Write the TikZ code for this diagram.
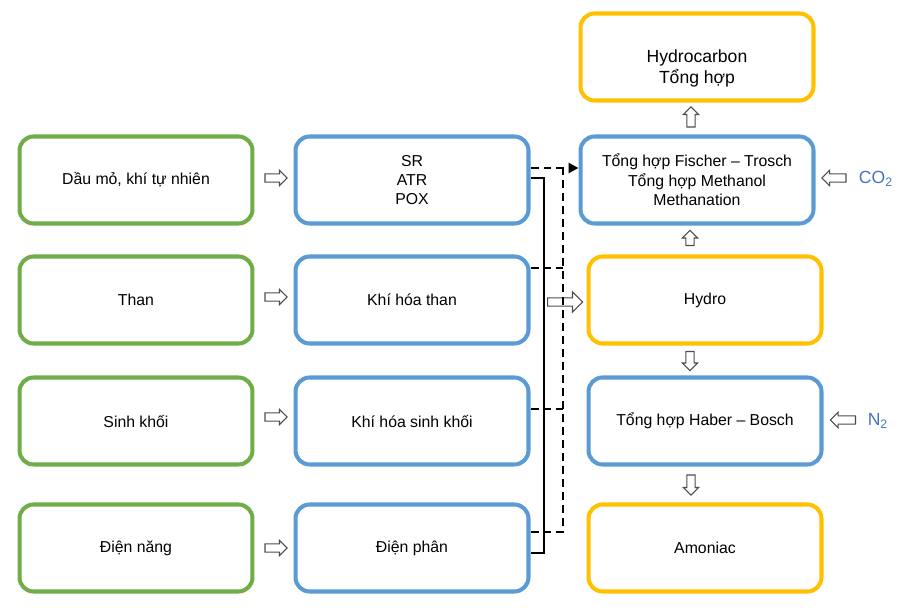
\documentclass[tikz,border=0pt]{standalone}
\usepackage{fontspec}
\setmainfont{Liberation Sans}
\usetikzlibrary{shapes.arrows,arrows.meta}
\definecolor{xanhla}{HTML}{70AD47}
\definecolor{xanhduong}{HTML}{5B9BD5}
\definecolor{vang}{HTML}{FFC000}
\definecolor{chuxanh}{HTML}{4472C4}

\begin{document}
\begin{tikzpicture}[x=0.02cm,y=-0.02cm,
  hop/.style={draw,rounded corners=0.28cm,line width=2.3pt,minimum width=4.66cm,minimum height=1.74cm,align=center,font=\fontsize{9}{11}\selectfont},
  nguon/.style={hop,draw=xanhla},
  quytrinh/.style={hop,draw=xanhduong},
  sanpham/.style={hop,draw=vang},
  muiten/.style={single arrow,draw=black!70,fill=white,line width=0.6pt,inner sep=2pt,minimum height=0.44cm,single arrow head extend=0.07cm},
  muitenlon/.style={muiten,minimum height=0.7cm,single arrow head extend=0.12cm},
  duonglien/.style={line width=1.4pt},
  duongdut/.style={line width=1.4pt,dash pattern=on 0.16cm off 0.1cm}]
\useasboundingbox (0,0) rectangle (910,608);
\node[nguon] (dau) at (136,180) {Dầu mỏ, khí tự nhiên};
\node[nguon] (than) at (136,300) {Than};
\node[nguon] (sinhkhoi) at (136,421) {Sinh khối};
\node[nguon] (dien) at (136,548) {Điện năng};
\node[quytrinh] (reform) at (412,180) {SR\\ATR\\POX};
\node[quytrinh] (khthan) at (412,300) {Khí hóa than};
\node[quytrinh] (khsk) at (412,421) {Khí hóa sinh khối};
\node[quytrinh] (dp) at (412,548) {Điện phân};
\node[sanpham,font=\fontsize{10}{12}\selectfont] (hc) at (697,57) {\rule{0pt}{0.72cm}Hydrocarbon\\Tổng hợp};
\node[quytrinh] (ft) at (697,180) {Tổng hợp Fischer – Trosch\\Tổng hợp Methanol\\Methanation};
\node[sanpham] (hydro) at (705,300) {Hydro};
\node[quytrinh] (haber) at (705,421) {Tổng hợp Haber – Bosch};
\node[sanpham] (amoniac) at (705,548) {Amoniac};
\node[muiten] (m1) at (274,178) {};
\node[muiten] (m2) at (274,297) {};
\node[muiten] (m3) at (274,417) {};
\node[muiten] (m4) at (274,548) {};
\node[muiten,rotate=90,minimum height=0.4cm] (m5) at (691,119) {};
\node[muiten,rotate=90,minimum height=0.3cm] (m6) at (690,240) {};
\node[muiten,rotate=270,minimum height=0.38cm] (m7) at (690,359) {};
\node[muiten,rotate=270,minimum height=0.4cm] (m8) at (691,483) {};
\node[muiten,rotate=180,minimum height=0.48cm] (m9) at (836,178) {};
\node[muiten,rotate=180,minimum height=0.5cm] (m10) at (845,420) {};
\node[text=chuxanh,font=\fontsize{10}{12}\selectfont] (co2) at (876,179) {CO\textsubscript{2}};
\node[text=chuxanh,font=\fontsize{10}{12}\selectfont] (n2) at (878,421) {N\textsubscript{2}};
\node[muitenlon] (lon) at (563,302) {};
\coordinate (stop) at (544,178);
\coordinate (sbot) at (544,553);
\coordinate (dtop) at (563,168);
\coordinate (dbot) at (563,532);
\draw[duonglien] (reform.east |- stop) -- (stop) -- (sbot) -- (dp.east |- sbot);
\draw[duongdut] (dp.east |- dbot) -- (dbot) -- (dtop);
\draw[duongdut,-{Triangle[length=0.2cm,width=0.2cm]}] (reform.east |- dtop) -- (ft.west |- dtop);
\draw[duongdut] (khthan.east |- 0,268) -- (dtop |- 0,268);
\draw[duongdut] (khsk.east |- 0,409) -- (dtop |- 0,409);
\end{tikzpicture}
\end{document}
